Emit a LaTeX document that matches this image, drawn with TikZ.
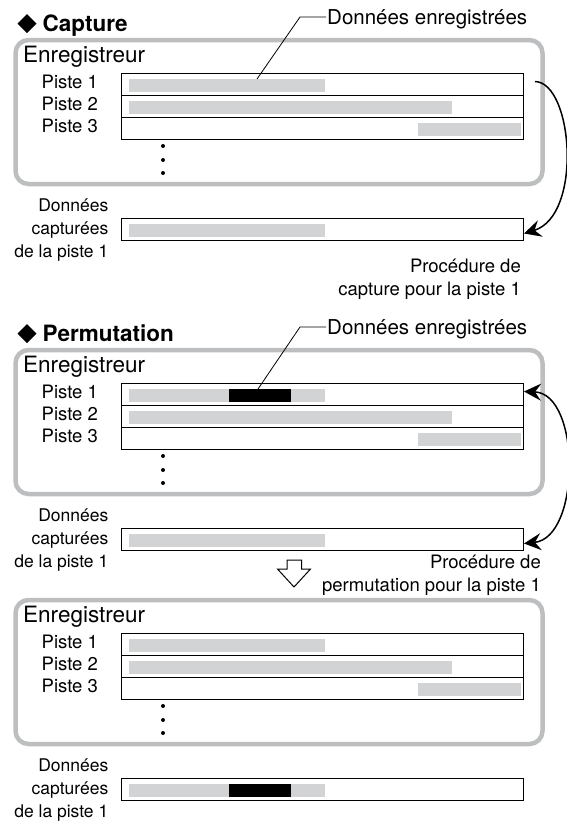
\documentclass[tikz,border=0pt]{standalone}
\usepackage{fontspec}
\setmainfont{TeX Gyre Heros}
\usetikzlibrary{arrows.meta}
\definecolor{barc}{RGB}{209,211,212}
\definecolor{framec}{RGB}{188,190,192}
\tikzset{
  frame/.style={draw=framec, line width=4.5pt, rounded corners=13pt},
  track/.style={draw=black, line width=1pt, minimum width=402pt, minimum height=22pt, inner sep=0pt, anchor=north west},
  lbl/.style={font=\fontsize{18.5}{22}\selectfont, inner sep=0pt},
  clbl/.style={font=\fontsize{17.5}{22}\selectfont, inner sep=0pt, anchor=base east},
  dlbl/.style={font=\fontsize{20.5}{24}\selectfont, inner sep=1pt, anchor=base west},
  rec/.style={font=\fontsize{22.5}{26}\selectfont, inner sep=0pt, anchor=base west},
  ttl/.style={font=\bfseries\fontsize{22.5}{26}\selectfont, inner sep=0pt, anchor=base west},
  dotn/.style={circle, fill=black, inner sep=0pt, minimum size=4pt},
  tipS/.tip={Stealth[length=17pt,width=17pt,inset=6pt]},
  curvearrow/.style={line width=1.5pt},
  callout/.style={line width=0.8pt},
}
\newcommand\recsec[2]{%
\begin{scope}[yshift=-#2pt]
  \draw[frame] (15.5,40) rectangle (542.5,184);
  \node[rec] (#1rec) at (23,62) {Enregistreur};
  \node[lbl, anchor=base west] (#1l1) at (41.5,88) {Piste 1};
  \node[lbl, anchor=base west] (#1l2) at (41.5,110) {Piste 2};
  \node[lbl, anchor=base west] (#1l3) at (41.5,132) {Piste 3};
  \fill[barc] (129,78.5) rectangle (325,91.5);
  \fill[barc] (129,100.5) rectangle (452,113.5);
  \fill[barc] (418,122.5) rectangle (521,135.5);
  \node[track] (#1t1) at (121,73) {};
  \node[track] (#1t2) at (121,95) {};
  \node[track] (#1t3) at (121,117) {};
  \node[dotn] (#1d1) at (163,146) {};
  \node[dotn] (#1d2) at (163,160) {};
  \node[dotn] (#1d3) at (163,173) {};
  \fill[barc] (129,223.5) rectangle (325,236.5);
  \node[track] (#1cap) at (121,218) {};
  \node[clbl] (#1c1) at (108.5,211) {Données};
  \node[clbl] (#1c2) at (108.5,234) {capturées};
  \node[clbl] (#1c3) at (108.5,257) {de la piste 1};
\end{scope}}
\begin{document}
\begin{tikzpicture}[x=1pt,y=-1pt]
\useasboundingbox (0,0) rectangle (567,823);
% ---------- Capture ----------
\fill (17.5,23.5) -- (27,14) -- (36.5,23.5) -- (27,33) -- cycle;
\node[ttl] (cap) at (42.5,31) {Capture};
\recsec{a}{0}
\node[dlbl] (adat) at (326,24) {Données enregistrées};
\coordinate (apt) at (257,79);
\coordinate (aelb) at (300,17);
\draw[callout] (apt) -- (aelb) -- (aelb -| adat.west);
\node[lbl, anchor=base east] (aproc1) at (521,272) {Procédure de};
\node[lbl, anchor=base east] (aproc2) at (521,295) {capture pour la piste 1};
\draw[curvearrow, -tipS] ([shift={(11pt,3pt)}]at1.east) .. controls +(38,1) and +(59,-18) .. ([yshift=-4pt]acap.east);
% ---------- Permutation ----------
\fill (17.5,333.5) -- (27,324) -- (36.5,333.5) -- (27,343) -- cycle;
\node[ttl] (perm) at (42.5,341) {Permutation};
\recsec{b}{310}
\fill[black] (229,388.5) rectangle (291,401.5);
\node[dlbl] (bdat) at (326,334) {Données enregistrées};
\coordinate (bpt) at (258,389);
\coordinate (belb) at (300,327);
\draw[callout] (bpt) -- (belb) -- (belb -| bdat.west);
\node[lbl, anchor=base east] (bproc1) at (541,568) {Procédure de};
\node[lbl, anchor=base east] (bproc2) at (541,591) {permutation pour la piste 1};
\draw[curvearrow, tipS-tipS] ([yshift=3pt]bt1.east) .. controls +(57,2) and +(57,-6) .. ([yshift=-4pt]bcap.east);
\draw[line width=1pt, fill=white] (287,560) -- (301.5,560) -- (301.5,569) -- (310.5,569) -- (294,587) -- (277.5,569) -- (287,569) -- cycle;
% ---------- Result ----------
\recsec{c}{560}
\fill[black] (229,783.5) rectangle (291,796.5);
\end{tikzpicture}
\end{document}
